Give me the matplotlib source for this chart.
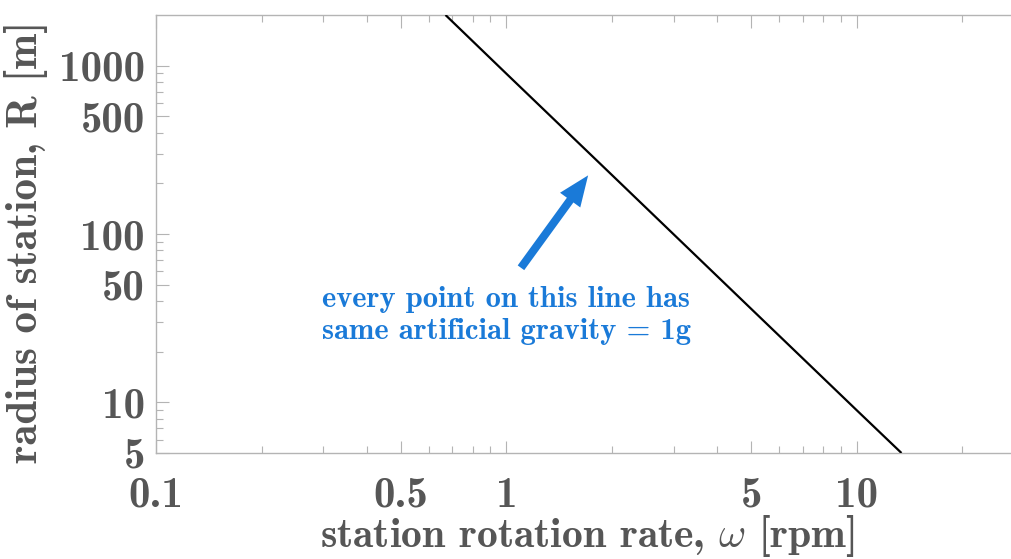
import matplotlib
matplotlib.use("Agg")
import matplotlib.pyplot as plt
from matplotlib.ticker import FixedLocator, NullFormatter

# rotation rate [rpm] and station radius [m] along the 1g curve
rpm = [0.67, 1.0, 2.0, 5.0, 10.0, 13.4]
radius = [2000, 895, 224, 35.8, 8.95, 5.0]

x_major = [0.1, 0.5, 1, 5, 10]
x_major_labels = ["0.1", "0.5", "1", "5", "10"]
x_minor = [0.2, 0.3, 0.4, 0.6, 0.7, 0.8, 0.9, 2, 3, 4, 6, 7, 8, 9, 20]
y_major = [5, 10, 50, 100, 500, 1000]
y_major_labels = ["5", "10", "50", "100", "500", "1000"]
y_minor = [6, 7, 8, 9, 20, 30, 40, 60, 70, 80, 90, 200, 300, 400,
           600, 700, 800, 900]

plt.rcParams["mathtext.fontset"] = "cm"
plt.rcParams["axes.unicode_minus"] = False

text_gray = "#565656"
tick_gray = "#b4b4b4"
blue = "#1a7ad8"
label_size = 31

fig = plt.figure(figsize=(10.12, 5.59), dpi=100)
ax = fig.add_axes([156 / 1012, 1 - 453 / 559, 1 - 156 / 1012, (453 - 15) / 559])

ax.plot(rpm, radius, color="black", lw=1.6, solid_capstyle="butt", zorder=3)

ax.set_xscale("log")
ax.set_yscale("log")
ax.set_xlim(0.1, 27.7)
ax.set_ylim(5, 2000)

ax.xaxis.set_major_locator(FixedLocator(x_major))
ax.xaxis.set_minor_locator(FixedLocator(x_minor))
ax.yaxis.set_major_locator(FixedLocator(y_major))
ax.yaxis.set_minor_locator(FixedLocator(y_minor))
ax.set_xticklabels(x_major_labels)
ax.set_yticklabels(y_major_labels)
ax.xaxis.set_minor_formatter(NullFormatter())
ax.yaxis.set_minor_formatter(NullFormatter())

for lab in ax.get_xticklabels() + ax.get_yticklabels():
    lab.set_fontfamily("cmb10")
    lab.set_fontsize(label_size)
    lab.set_color(text_gray)

ax.tick_params(which="both", direction="in", color=tick_gray, width=0.8,
               top=True, right=False)
ax.tick_params(which="major", length=9)
ax.tick_params(which="minor", length=5)
ax.tick_params(axis="x", pad=17)
ax.tick_params(axis="y", pad=8)

for side in ("left", "bottom", "top"):
    ax.spines[side].set_color(tick_gray)
    ax.spines[side].set_linewidth(1.0)
ax.spines["right"].set_visible(False)

ax.set_xlabel(r"station rotation rate, $\omega$ [rpm]", fontfamily="cmb10",
              fontsize=30, color=text_gray)
ax.set_ylabel("radius of station, R [m]", fontfamily="cmb10",
              fontsize=label_size, color=text_gray)
ax.xaxis.set_label_coords(0.5035, -0.138)
ax.yaxis.set_label_coords(-0.126, 0.482)

ax.annotate("", xy=(1.71, 223), xytext=(1.10, 63),
            arrowprops=dict(arrowstyle="simple,head_length=2.2,head_width=1.8,tail_width=0.58",
                            mutation_scale=10, color=blue, lw=0,
                            shrinkA=0, shrinkB=0),
            zorder=4)

ax.text(0.298, 49, "every point on this line has\nsame artificial gravity = 1g",
        fontfamily="cmb10", fontsize=22, color=blue, ha="left", va="top",
        linespacing=1.22)

fig.savefig("out.png", dpi=100)
